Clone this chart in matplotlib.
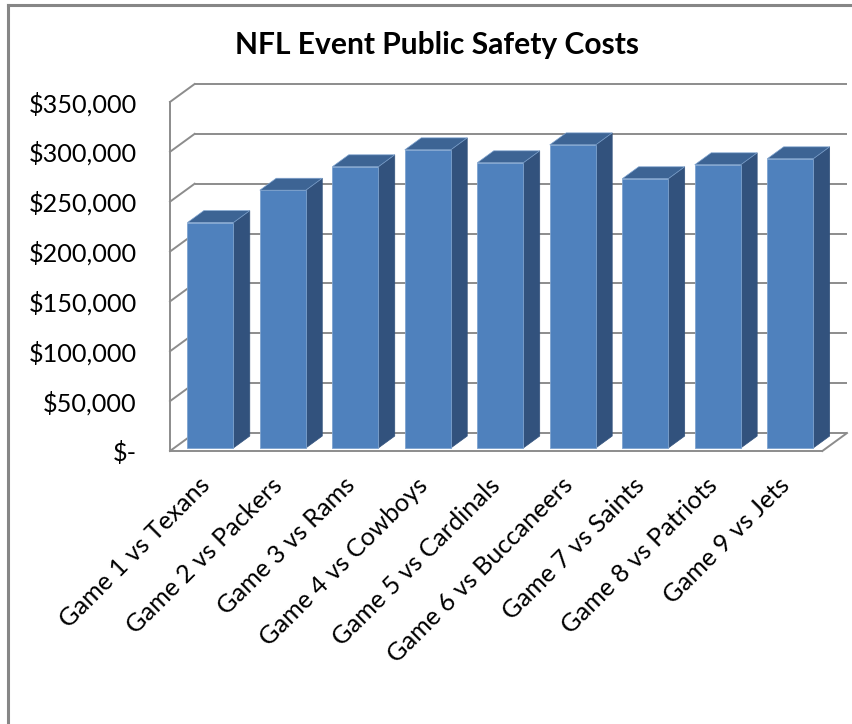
import matplotlib
matplotlib.use("Agg")
import matplotlib.pyplot as plt
from matplotlib.patches import Polygon, Rectangle
from matplotlib.lines import Line2D

categories = ["Game 1 vs Texans", "Game 2 vs Packers", "Game 3 vs Rams",
              "Game 4 vs Cowboys", "Game 5 vs Cardinals", "Game 6 vs Buccaneers",
              "Game 7 vs Saints", "Game 8 vs Patriots", "Game 9 vs Jets"]
costs = [226000, 258500, 282000, 299000, 286000, 304000, 270000, 284000, 290000]
tick_values = [0, 50000, 100000, 150000, 200000, 250000, 300000, 350000]
tick_labels = ["$-", "$50,000", "$100,000", "$150,000", "$200,000",
               "$250,000", "$300,000", "$350,000"]
title = "NFL Event Public Safety Costs"

FONT = ["Lato", "DejaVu Sans"]
plt.rcParams['font.family'] = FONT

W, H = 852, 724
fig = plt.figure(figsize=(W / 100, H / 100), dpi=100)

# depth of 3D box in data units
DX = 0.34
DY = 18000
YMAX = 350000
n = len(categories)

left_px, right_px = 170, 847
bot_px, top_px = 451, 84
ax = fig.add_axes([left_px / W, 1 - bot_px / H, (right_px - left_px) / W, (bot_px - top_px) / H])
ax.set_xlim(0, n + DX)
ax.set_ylim(0, YMAX + DY)
for s in ax.spines.values():
    s.set_visible(False)
ax.patch.set_alpha(0)

grid_c = "#8c8c8c"
glw = 1.4
# gridlines: back wall + left side wall
for v in tick_values:
    ax.plot([DX, n + DX], [v + DY, v + DY], color=grid_c, lw=glw, zorder=1, clip_on=False,
            solid_capstyle='butt')
    ax.plot([0, DX], [v, v + DY], color=grid_c, lw=glw, zorder=1, clip_on=False)
# front left axis
ax.plot([0, 0], [0, YMAX], color=grid_c, lw=glw, zorder=1, clip_on=False)
# floor front edge & right diagonal
ax.plot([0, n], [0, 0], color=grid_c, lw=glw, zorder=1, clip_on=False)
ax.plot([n, n + DX], [0, DY], color=grid_c, lw=glw, zorder=1, clip_on=False)

# bars
f0, f1 = 0.167, 0.833
BW = 0.635
front_c = "#4f81bd"
side_c = "#32527d"
top_c = "#3d6494"
edge_c = "#7ea3cf"
xs = [i + 0.5 for i in range(n)]
bars = ax.bar([x + f0 * DX for x in xs], costs, width=BW, bottom=f0 * DY,
              color=front_c, edgecolor=edge_c, linewidth=0.6, zorder=3)
ddx = (f1 - f0) * DX
ddy = (f1 - f0) * DY
for x, v in zip(xs, costs):
    xl = x + f0 * DX - BW / 2
    xr = xl + BW
    yb = f0 * DY
    yt = yb + v
    side = Polygon([(xr, yb), (xr + ddx, yb + ddy), (xr + ddx, yt + ddy), (xr, yt)],
                   closed=True, facecolor=side_c, edgecolor=side_c, lw=0.5, zorder=2.9)
    top = Polygon([(xl, yt), (xr, yt), (xr + ddx, yt + ddy), (xl + ddx, yt + ddy)],
                  closed=True, facecolor=top_c, edgecolor=edge_c, lw=0.5, zorder=3.1)
    ax.add_patch(side)
    ax.add_patch(top)

ax.set_yticks(tick_values)
ax.set_yticklabels(tick_labels, fontsize=18.2)
ax.tick_params(axis='y', length=0, pad=24)
ax.set_xticks(xs)
ax.set_xticklabels(categories, fontsize=18.2, rotation=45, ha='right', va='center',
                   rotation_mode='anchor')
ax.tick_params(axis='x', length=0, pad=22)

fig.text(437 / W, 1 - 45 / H, title, ha='center', va='center', fontsize=21.6,
         fontweight='bold')

# chart border (left & top visible)
fig.add_artist(Line2D([8 / W, 8 / W], [0, 1 - 5 / H], color="#868686", lw=2.2))
fig.add_artist(Line2D([8 / W, 1], [1 - 5 / H, 1 - 5 / H], color="#868686", lw=2.2))

fig.savefig("out.png", dpi=100)
